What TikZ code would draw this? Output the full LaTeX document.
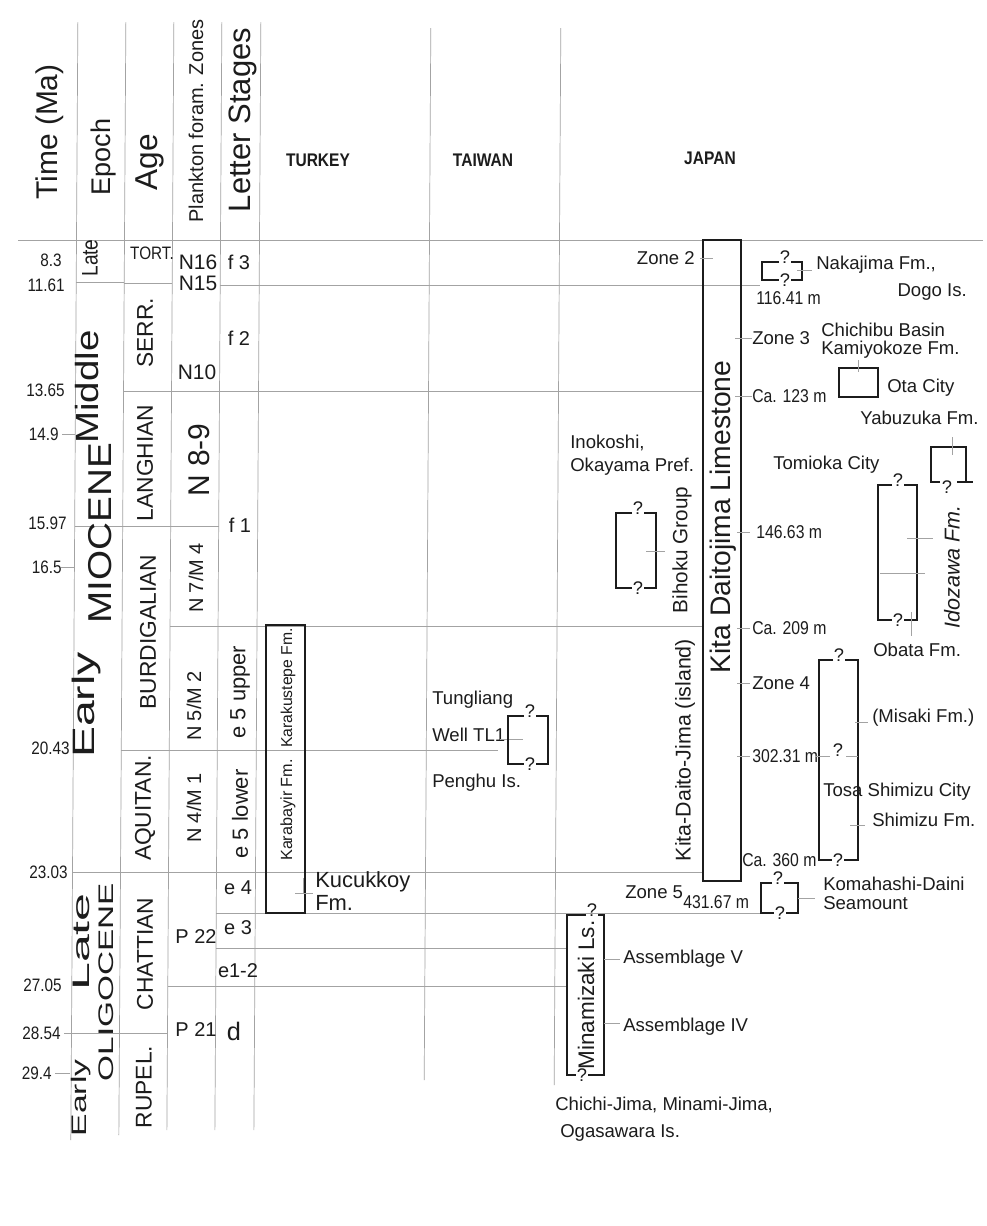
\documentclass[tikz,border=0pt]{standalone}
\usepackage{fontspec}
\setmainfont{Liberation Sans}
\newfontfamily\narrowfont[FakeStretch=0.85]{Liberation Sans}
\usetikzlibrary{positioning}
\definecolor{ink}{HTML}{1C1C1C}
\definecolor{rule}{HTML}{A3A3A3}
\newcommand\qbracket[7]{%
  \draw[bracket] (#6-6,#3) -- (#2,#3) -- (#2,#5) -- (#7-6,#5);
  \draw[bracket] (#6+6,#3) -- (#4,#3) -- (#4,#5) -- (#7+6,#5);
  \node[qmark, anchor=base] (#1top) at (#6,#3+1) {?};
  \node[qmark] (#1bot) at (#7,#5) {?};
}
\begin{document}
\begin{tikzpicture}[x=0.025cm, y=-0.025cm,
  grid/.style={draw=rule, line width=0.5pt},
  frame/.style={draw=ink, line width=1.6pt},
  bracket/.style={draw=ink, line width=1.3pt},
  lbl/.style={inner sep=0pt, text=ink, font=\fontsize{13.2}{15}\selectfont},
  depth/.style={inner sep=0pt, text=ink, anchor=west, font=\narrowfont\fontsize{13.2}{15}\selectfont},
  num/.style={inner sep=0pt, text=ink, anchor=east, font=\narrowfont\fontsize{12.8}{14}\selectfont},
  head/.style={inner sep=0pt, text=ink, rotate=90},
  country/.style={inner sep=0pt, text=ink, font=\narrowfont\bfseries\fontsize{13}{15}\selectfont},
  age/.style={inner sep=0pt, text=ink, rotate=90, font=\fontsize{16.2}{18}\selectfont},
  zone/.style={inner sep=0pt, text=ink, font=\fontsize{14.2}{16}\selectfont},
  qmark/.style={inner sep=0pt, text=ink, font=\fontsize{13}{15}\selectfont}
]
\fill[white] (0,0) rectangle (987,1226);
\useasboundingbox (0,0) rectangle (987,1226);

\begin{scope}[xslant=0.0063]
\draw[grid] (20,240) -- (985,240);
\foreach \x/\yb in {78/1140, 126/1135, 174/1130, 222/1130, 261/1130}
  \draw[grid] (\x,22) -- (\x,\yb);
\draw[grid] (431,28) -- (431,1080);
\draw[grid] (561,28) -- (561,1085);
\draw[grid] (78,282) -- (126,282);
\draw[grid] (126,283) -- (174,283);
\draw[grid] (222,285) -- (762,285);
\draw[grid] (126,391) -- (705,391);
\draw[grid] (78,526) -- (222,526);
\draw[grid] (174,626) -- (706,626);
\draw[grid] (126,750) -- (503,750);
\draw[grid] (78,872) -- (708,872);
\draw[grid] (222,913) -- (767,913);
\draw[grid] (222,948) -- (573,948);
\draw[grid] (174,986) -- (573,986);
\draw[grid] (71,1033) -- (174,1033);
\draw[grid] (65,434) -- (78,434);
\draw[grid] (65,567) -- (78,567);
\draw[grid] (62,1073) -- (77,1073);
\end{scope}

\node[head, font=\fontsize{21.3}{24}\selectfont] (hTime) at (50,132) {Time (Ma)};
\node[head, font=\fontsize{19.2}{22}\selectfont] (hEpoch) at (104,157) {Epoch};
\node[head, font=\fontsize{22.5}{25}\selectfont] (hAge) at (150,162) {Age};
\node[head, font=\fontsize{14.2}{16}\selectfont] (hZones) at (196,121) {Plankton foram. Zones};
\node[head, font=\fontsize{22}{24}\selectfont] (hLetter) at (243,120) {Letter Stages};
\node[country] (turkey) at (318,160) {TURKEY};
\node[country] (taiwan) at (483,160) {TAIWAN};
\node[country] (japan) at (710,158) {JAPAN};

\node[num] (t83) at (62,260) {8.3};
\node[num] (t1161) at (65,285) {11.61};
\node[num] (t1365) at (65,390) {13.65};
\node[num] (t149) at (59,434) {14.9};
\node[num] (t1597) at (67,523) {15.97};
\node[num] (t165) at (62,567) {16.5};
\node[num] (t2043) at (70,748) {20.43};
\node[num] (t2303) at (68,872) {23.03};
\node[num] (t2705) at (62,985) {27.05};
\node[num] (t2854) at (61,1033) {28.54};
\node[num] (t294) at (52,1073) {29.4};

\node[head, font=\narrowfont\fontsize{16}{18}\selectfont] (eLateMio) at (90,258) {Late};
\node[head, font=\fontsize{22.8}{25}\selectfont] (eMiddle) at (87,387) {\scalebox{1.2}[1]{Middle}};
\node[head, font=\fontsize{23.5}{26}\selectfont] (eMiocene) at (100,533) {\scalebox{1.17}[1]{MIOCENE}};
\node[head, font=\fontsize{22}{24}\selectfont] (eEarlyMio) at (87,705) {\scalebox{1.5}[1]{Early}};
\node[head, font=\fontsize{17}{19}\selectfont] (eLateOli) at (81,942) {\scalebox{2.1}[1]{Late}};
\node[head, font=\fontsize{15}{17}\selectfont] (eOligocene) at (106,982) {\scalebox{1.58}[1]{OLIGOCENE}};
\node[head, font=\fontsize{15}{17}\selectfont] (eEarlyOli) at (81,1098) {\scalebox{1.6}[1]{Early}};

\node[inner sep=0pt, text=ink, font=\narrowfont\fontsize{12.8}{14}\selectfont] (aTort) at (152,253) {TORT.};
\node[age] (aSerr) at (145,333) {SERR.};
\node[age] (aLangh) at (145,463) {LANGHIAN};
\node[age] (aBurd) at (148,632) {BURDIGALIAN};
\node[age] (aAquit) at (145,808) {AQUITAN.};
\node[age] (aChatt) at (145,954) {CHATTIAN};
\node[age] (aRupel) at (144,1087) {RUPEL.};

\node[zone, font=\fontsize{14.9}{16}\selectfont] (zN16) at (198,262) {N16};
\node[zone, font=\fontsize{14.9}{16}\selectfont] (zN15) at (198,283) {N15};
\node[zone, font=\fontsize{14.9}{16}\selectfont] (zN10) at (197,372) {N10};
\node[zone, rotate=90, font=\fontsize{21.3}{24}\selectfont] (zN89) at (199,460) {N 8-9};
\node[zone, rotate=90] (zN7) at (196,578) {N 7/M 4};
\node[zone, rotate=90] (zN5) at (194,706) {N 5/M 2};
\node[zone, rotate=90] (zN4) at (194,808) {N 4/M 1};
\node[zone] (zP22) at (196,937) {P 22};
\node[zone] (zP21) at (196,1030) {P 21};

\node[zone] (sF3) at (239,262) {f 3};
\node[zone] (sF2) at (239,338) {f 2};
\node[zone] (sF1) at (240,525) {f 1};
\node[zone, rotate=90, font=\fontsize{15.6}{17}\selectfont] (sE5u) at (240,692) {e 5 upper};
\node[zone, rotate=90, font=\fontsize{15.6}{17}\selectfont] (sE5l) at (240,814) {e 5 lower};
\node[zone] (sE4) at (238,888) {e 4};
\node[zone] (sE3) at (238,928) {e 3};
\node[zone] (sE12) at (238,971) {e1-2};
\node[zone, font=\fontsize{18}{20}\selectfont] (sD) at (234,1031) {d};

\draw[frame] (266,625) rectangle (305,913);
\node[head, font=\fontsize{11.2}{13}\selectfont] (karakustepe) at (288,688) {Karakustepe Fm.};
\node[head, font=\fontsize{11.5}{13}\selectfont] (karabayir) at (288,810) {Karabayir Fm.};
\draw[grid] (295,893) -- (313,893);
\draw[grid] (303,878) -- (303,893);
\node[lbl, anchor=west, font=\fontsize{15.6}{17}\selectfont] (kucukkoy) at (315,882) {Kucukkoy};
\node[lbl, anchor=west, font=\fontsize{15.6}{17}\selectfont] (kucukkoyFm) at (315,903) {Fm.};

\node[lbl, anchor=west] (tungliang) at (432,700) {Tungliang};
\node[lbl, anchor=west] (welltl1) at (432,735) {Well TL1};
\node[lbl, anchor=west] (penghu) at (432,783) {Penghu Is.};
\draw[grid] (500,739) -- (523,739);
\qbracket{tung}{508}{716}{548}{764}{530}{530}

\draw[frame] (703,240) rectangle (741,881);
\node[head, font=\fontsize{20.1}{22}\selectfont] (kita) at (723,517) {Kita Daitojima Limestone};
\node[head, font=\fontsize{15.2}{17}\selectfont] (kitaisland) at (685,750) {Kita-Daito-Jima (island)};
\node[head, font=\fontsize{14.7}{16}\selectfont] (bihoku) at (682,550) {Bihoku Group};
\node[head, font=\itshape\fontsize{15.3}{17}\selectfont] (idozawa) at (952,567) {Idozawa Fm.};
\node[head, font=\fontsize{16}{18}\selectfont] (minamizaki) at (586,995) {Minamizaki Ls.};

\draw[grid] (700,258) -- (713,258);
\draw[grid] (735,338) -- (752,338);
\draw[grid] (735,396) -- (752,396);
\draw[grid] (737,532) -- (750,532);
\draw[grid] (737,628) -- (750,628);
\draw[grid] (737,683) -- (750,683);
\draw[grid] (737,756) -- (750,756);
\node[lbl, anchor=east] (zone2) at (695,258) {Zone 2};
\node[depth] (d116) at (756,298) {116.41 m};
\node[lbl, anchor=west] (zone3) at (752,338) {Zone 3};
\node[depth] (d123) at (752,396) {Ca. 123 m};
\node[depth] (d146) at (756,532) {146.63 m};
\node[depth] (d209) at (752,628) {Ca. 209 m};
\node[lbl, anchor=west] (zone4) at (752,683) {Zone 4};
\node[depth] (d302) at (752,756) {302.31 m};
\node[depth] (d360) at (742,860) {Ca. 360 m};
\node[lbl, anchor=west] (zone5) at (625,892) {Zone 5};
\node[depth] (d431) at (683,902) {431.67 m};

\qbracket{nak}{762}{262}{802}{280}{785}{785}
\draw[grid] (797,270) -- (812,270);
\node[lbl, anchor=west] (nakajima) at (816,265) {Nakajima Fm.,};
\node[lbl, anchor=east] (dogo) at (967,292) {Dogo Is.};
\node[lbl, anchor=west] (chichibu) at (821,330) {Chichibu Basin};
\node[lbl, anchor=west] (kamiyokoze) at (821,350) {Kamiyokoze Fm.};
\draw[bracket] (839,368) rectangle (878,397);
\draw[grid] (858,360) -- (858,372);
\node[lbl, anchor=west] (ota) at (887,388) {Ota City};
\node[lbl, anchor=west] (yabuzuka) at (860,418) {Yabuzuka Fm.};

\node[lbl, anchor=west] (inokoshi) at (570,443) {Inokoshi,};
\node[lbl, anchor=west] (okayama) at (570,467) {Okayama Pref.};
\qbracket{bih}{616}{513}{656}{588}{638}{638}
\draw[grid] (646,551) -- (665,551);

\node[lbl, anchor=west] (tomioka) at (773,465) {Tomioka City};
\qbracket{tom}{878}{485}{917}{620}{898}{898}
\draw[grid] (911,612) -- (911,636);
\draw[grid] (907,538) -- (933,538);
\draw[grid] (880,573) -- (925,573);
\draw[bracket] (940,482) -- (931,482) -- (931,447) -- (966,447) -- (966,482);
\draw[bracket] (957,482) -- (973,482);
\node[qmark] (idoq) at (947,487) {?};
\draw[grid] (952,437) -- (952,455);
\node[lbl, anchor=west] (obata) at (873,650) {Obata Fm.};

\qbracket{tosa}{819}{660}{858}{860}{839}{838}
\draw[grid] (815,756) -- (830,756);
\draw[grid] (846,756) -- (858,756);
\node[qmark] (tosamid) at (838,750) {?};
\draw[grid] (855,722) -- (868,722);
\draw[grid] (850,825) -- (865,825);
\node[lbl, anchor=west] (misaki) at (872,718) {(Misaki Fm.)};
\node[lbl, anchor=west] (tosa) at (823,792) {Tosa Shimizu City};
\node[lbl, anchor=west] (shimizu) at (872,820) {Shimizu Fm.};

\qbracket{koma}{761}{883}{798}{913}{778}{780}
\draw[grid] (798,898) -- (815,898);
\node[lbl, anchor=west] (komahashi) at (823,884) {Komahashi-Daini};
\node[lbl, anchor=west] (seamount) at (823,903) {Seamount};

\qbracket{mina}{567}{915}{604}{1075}{592}{582}
\draw[grid] (604,959) -- (620,959);
\draw[grid] (604,1023) -- (620,1023);
\node[lbl, anchor=west] (assV) at (623,959) {Assemblage V};
\node[lbl, anchor=west] (assIV) at (623,1027) {Assemblage IV};
\node[lbl, anchor=west] (chichi) at (555,1105) {Chichi-Jima, Minami-Jima,};
\node[lbl, anchor=west] (ogasawara) at (560,1133) {Ogasawara Is.};
\end{tikzpicture}
\end{document}
